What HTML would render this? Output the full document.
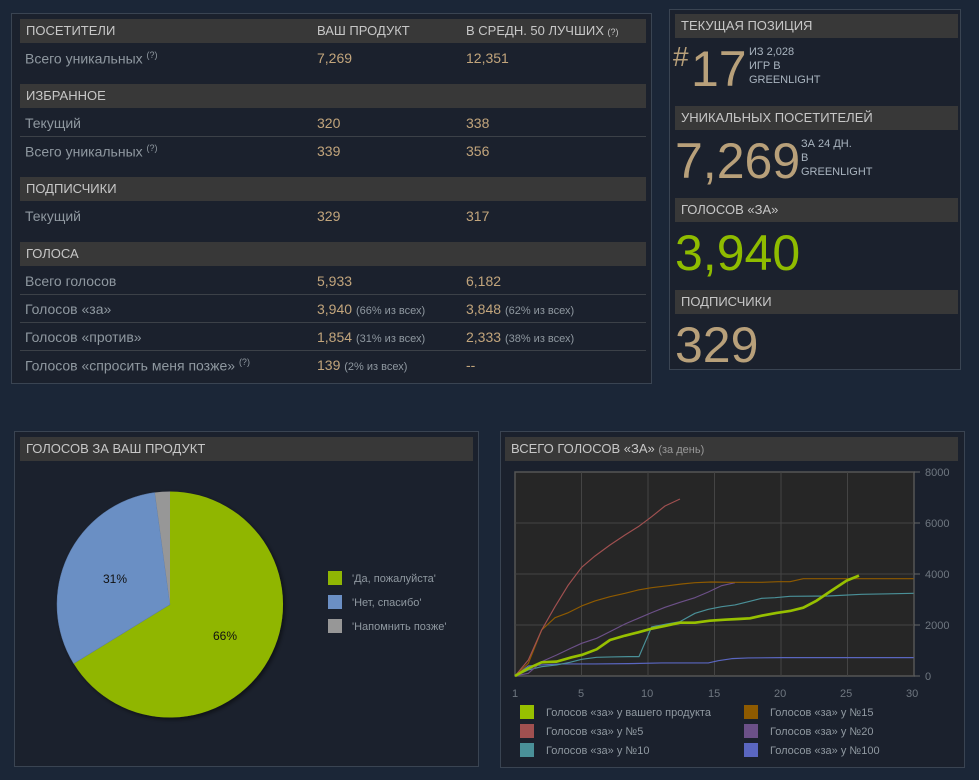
<!DOCTYPE html>
<html><head><meta charset="utf-8"><style>
*{margin:0;padding:0;box-sizing:border-box}
body{width:979px;height:780px;background:#1b2637;font-family:"Liberation Sans",Arial,sans-serif;position:relative;overflow:hidden}
.p{position:absolute;border:1px solid #3a4452;background:#1b212d}
.h{position:absolute;background:#383838;color:#c7c7c7;font-size:13px;line-height:24px;padding-left:6px;height:24px}
.t{position:absolute;font-size:14px;color:#8f98a0;white-space:nowrap}
.v{position:absolute;font-size:14px;color:#c2a57c;white-space:nowrap}
.v small{font-size:11px;color:#8f98a0}
.sep{position:absolute;left:20px;width:626px;height:1px;background:#3c4148}
sup{font-size:9px}
.big{position:absolute;color:#b8a07a;font-size:50px;line-height:1}
.sm{position:absolute;color:#a9b4bf;font-size:11px;line-height:14px}
</style></head><body>
<div class="p" style="left:11px;top:13px;width:641px;height:371px"></div>
<div class="h" style="left:20px;top:19px;width:626px">ПОСЕТИТЕЛИ<span style="position:absolute;left:297px">ВАШ ПРОДУКТ</span><span style="position:absolute;left:446px">В СРЕДН. 50 ЛУЧШИХ <small style="font-size:9px">(?)</small></span></div>
<div class="t" style="left:25px;top:50px">Всего уникальных <sup>(?)</sup></div><div class="v" style="left:317px;top:50px">7,269</div><div class="v" style="left:466px;top:50px">12,351</div>
<div class="h" style="left:20px;top:84px;width:626px">ИЗБРАННОЕ</div>
<div class="t" style="left:25px;top:115px">Текущий</div><div class="v" style="left:317px;top:115px">320</div><div class="v" style="left:466px;top:115px">338</div>
<div class="sep" style="top:136px"></div>
<div class="t" style="left:25px;top:143px">Всего уникальных <sup>(?)</sup></div><div class="v" style="left:317px;top:143px">339</div><div class="v" style="left:466px;top:143px">356</div>
<div class="h" style="left:20px;top:177px;width:626px">ПОДПИСЧИКИ</div>
<div class="t" style="left:25px;top:208px">Текущий</div><div class="v" style="left:317px;top:208px">329</div><div class="v" style="left:466px;top:208px">317</div>
<div class="h" style="left:20px;top:242px;width:626px">ГОЛОСА</div>
<div class="t" style="left:25px;top:273px">Всего голосов</div><div class="v" style="left:317px;top:273px">5,933</div><div class="v" style="left:466px;top:273px">6,182</div>
<div class="sep" style="top:294px"></div>
<div class="t" style="left:25px;top:301px">Голосов «за»</div><div class="v" style="left:317px;top:301px">3,940 <small>(66% из всех)</small></div><div class="v" style="left:466px;top:301px">3,848 <small>(62% из всех)</small></div>
<div class="sep" style="top:322px"></div>
<div class="t" style="left:25px;top:329px">Голосов «против»</div><div class="v" style="left:317px;top:329px">1,854 <small>(31% из всех)</small></div><div class="v" style="left:466px;top:329px">2,333 <small>(38% из всех)</small></div>
<div class="sep" style="top:350px"></div>
<div class="t" style="left:25px;top:357px">Голосов «спросить меня позже» <sup>(?)</sup></div><div class="v" style="left:317px;top:357px">139 <small>(2% из всех)</small></div><div class="v" style="left:466px;top:357px">--</div>

<div class="p" style="left:669px;top:9px;width:292px;height:361px"></div>
<div class="h" style="left:675px;top:14px;width:283px">ТЕКУЩАЯ ПОЗИЦИЯ</div>
<div class="big" style="left:673px;top:43px;font-size:28px">#</div>
<div class="big" style="left:691px;top:44px">17</div>
<div class="sm" style="left:749px;top:45px">ИЗ 2,028<br>ИГР В<br>GREENLIGHT</div>
<div class="h" style="left:675px;top:106px;width:283px">УНИКАЛЬНЫХ ПОСЕТИТЕЛЕЙ</div>
<div class="big" style="left:675px;top:136px">7,269</div>
<div class="sm" style="left:801px;top:137px">ЗА 24 ДН.<br>В<br>GREENLIGHT</div>
<div class="h" style="left:675px;top:198px;width:283px">ГОЛОСОВ «ЗА»</div>
<div class="big" style="left:675px;top:228px;color:#8fbc00">3,940</div>
<div class="h" style="left:675px;top:290px;width:283px">ПОДПИСЧИКИ</div>
<div class="big" style="left:675px;top:320px">329</div>

<div class="p" style="left:14px;top:431px;width:465px;height:336px"></div>
<div class="h" style="left:20px;top:437px;width:453px">ГОЛОСОВ ЗА ВАШ ПРОДУКТ</div>
<svg style="position:absolute;left:0;top:0" width="979" height="780">
<defs><filter id="sh"><feDropShadow dx="2" dy="2" stdDeviation="2" flood-color="#000" flood-opacity="0.5"/></filter></defs>
<g filter="url(#sh)">
<path d="M170,604.5 L170,491.5 A113,113 0 1,1 73.7,663.6 Z" fill="#90b604"/>
<path d="M170,604.5 L73.7,663.6 A113,113 0 0,1 154.8,492.5 Z" fill="#6b8fc4" stroke="#5a7aa8" stroke-width="0.5"/>
<path d="M170,604.5 L154.8,492.5 A113,113 0 0,1 170,491.5 Z" fill="#979797"/>
</g>
<text x="103" y="583" font-size="12" fill="#111" font-family="Liberation Sans">31%</text>
<text x="213" y="640" font-size="12" fill="#111" font-family="Liberation Sans">66%</text>
<rect x="328" y="571" width="14" height="14" fill="#90b604"/><rect x="328" y="595" width="14" height="14" fill="#6b8fc4"/><rect x="328" y="619" width="14" height="14" fill="#979797"/>
<g font-size="11" fill="#8f98a0" font-family="Liberation Sans"><text x="352" y="582">'Да, пожалуйста'</text><text x="352" y="606">'Нет, спасибо'</text><text x="352" y="630">'Напомнить позже'</text></g>
</svg>

<div class="p" style="left:500px;top:431px;width:465px;height:337px"></div>
<div class="h" style="left:505px;top:437px;width:453px">ВСЕГО ГОЛОСОВ «ЗА» <span style="font-size:11px;color:#9a9a9a">(за день)</span></div>
<svg style="position:absolute;left:0;top:0" width="979" height="780">
<rect x="515" y="472" width="399" height="204" fill="#262626" stroke="#555" stroke-width="1.5"/>
<g stroke="#444" stroke-width="1">
<line x1="515" y1="523" x2="914" y2="523"/><line x1="515" y1="574" x2="914" y2="574"/><line x1="515" y1="625" x2="914" y2="625"/>
<line x1="581.5" y1="472" x2="581.5" y2="676"/><line x1="648" y1="472" x2="648" y2="676"/><line x1="714.5" y1="472" x2="714.5" y2="676"/><line x1="781" y1="472" x2="781" y2="676"/><line x1="847.5" y1="472" x2="847.5" y2="676"/>
</g>
<g stroke="#666" stroke-width="1"><line x1="914" y1="472" x2="920" y2="472"/><line x1="914" y1="523" x2="920" y2="523"/><line x1="914" y1="574" x2="920" y2="574"/><line x1="914" y1="625" x2="920" y2="625"/><line x1="914" y1="676" x2="920" y2="676"/></g>
<g font-size="11" fill="#6f7780" font-family="Liberation Sans">
<text x="925" y="476">8000</text><text x="925" y="527">6000</text><text x="925" y="578">4000</text><text x="925" y="629">2000</text><text x="925" y="680">0</text>
<text x="512" y="697">1</text><text x="578" y="697">5</text><text x="641" y="697">10</text><text x="708" y="697">15</text><text x="774" y="697">20</text><text x="840" y="697">25</text><text x="906" y="697">30</text>
</g>
<g transform="translate(495,430) scale(0.3333)" fill="none" stroke-linejoin="round">
<polyline stroke="#5a66c0" stroke-width="3.5" points="60,738 100,708 140,705 200,702 300,702 400,701 500,699 640,699 670,692 710,686 760,684 860,683 1256,683"/>
<polyline stroke="#4a9098" stroke-width="3.5" points="60,738 100,720 140,710 185,705 225,697 260,688 305,682 350,681 400,680 432,680 470,591 510,583 555,575 600,550 640,538 680,530 720,525 760,515 800,505 840,503 885,499 1000,498 1100,493 1256,490"/>
<polyline stroke="#6c5088" stroke-width="3.5" points="60,738 100,730 140,695 185,675 225,656 260,640 305,625 345,605 390,582 430,565 470,548 510,532 555,517 600,503 640,486 680,467 720,458"/>
<polyline stroke="#8e5a00" stroke-width="3.5" points="60,738 100,700 140,600 180,563 220,548 260,528 300,513 345,500 390,490 430,480 470,473 520,467 560,462 600,458 650,456 700,457 800,457 850,455 885,455 925,446 1256,446"/>
<polyline stroke="#a05050" stroke-width="3.5" points="60,738 100,690 140,600 180,530 220,465 260,412 300,378 345,345 390,315 430,290 470,260 510,228 555,207"/>
<polyline stroke="#97c000" stroke-width="8" points="60,738 100,715 140,697 185,695 230,682 260,675 305,658 345,630 390,617 430,607 470,596 510,588 555,578 600,578 645,572 690,569 730,567 765,565 800,557 845,549 885,543 925,533 965,512 1005,485 1055,452 1092,437"/>
</g>
<rect x="520" y="705" width="14" height="14" fill="#97c000"/><rect x="520" y="724" width="14" height="14" fill="#a05050"/><rect x="520" y="743" width="14" height="14" fill="#4a9098"/>
<rect x="744" y="705" width="14" height="14" fill="#8e5a00"/><rect x="744" y="724" width="14" height="14" fill="#6c5088"/><rect x="744" y="743" width="14" height="14" fill="#5a66c0"/>
<g font-size="11" fill="#8f98a0" font-family="Liberation Sans">
<text x="546" y="716">Голосов «за» у вашего продукта</text><text x="546" y="735">Голосов «за» у №5</text><text x="546" y="754">Голосов «за» у №10</text>
<text x="770" y="716">Голосов «за» у №15</text><text x="770" y="735">Голосов «за» у №20</text><text x="770" y="754">Голосов «за» у №100</text>
</g>
</svg>
</body></html>
